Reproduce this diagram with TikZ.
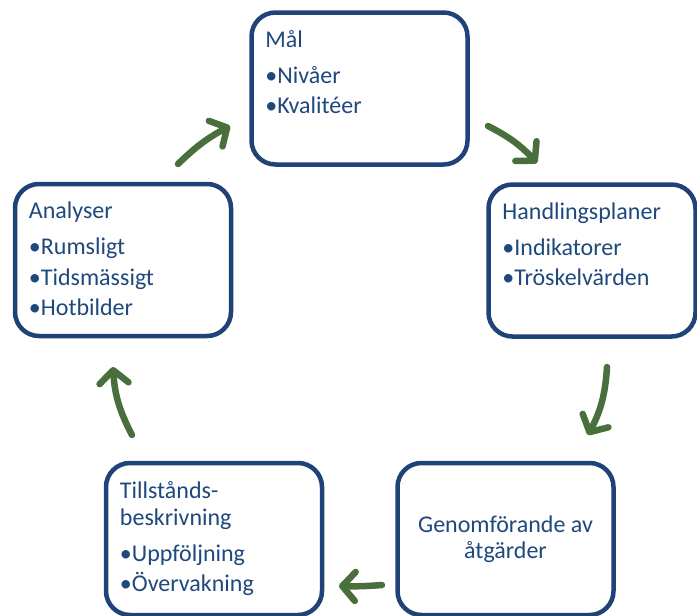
\documentclass[tikz,border=0pt]{standalone}
\usepackage{fontspec}
\setmainfont{Carlito}
\usepackage{xcolor}
\usetikzlibrary{positioning,calc,arrows.meta}
\definecolor{boxblue}{RGB}{31,67,118}
\definecolor{txtblue}{RGB}{31,73,125}
\definecolor{arrgreen}{RGB}{72,111,60}

\begin{document}
\begin{tikzpicture}[x=1pt, y=-1pt,
		stage/.style={shape=rectangle, draw=boxblue, line width=4.5pt, rounded corners=24pt, fill=white, minimum width=216pt, minimum height=152pt},
		stagetext/.style={inner sep=0pt, align=left, text=txtblue, font=\fontsize{24}{26.4}\selectfont},
		cyclearrow/.style={draw=arrgreen, line width=6.5pt, line cap=round, -{Straight Barb[length=13pt, width=29pt, round]}}]
			\useasboundingbox (0,0) rectangle (697,616);
			% stages of the cycle
			\node[name=mal, stage] at (359.5,88.5) {};
			\node[name=hand, stage, minimum width=207pt] at (592,260.5) {};
			\node[name=gen, stage] at (505.5,539) {};
			\node[name=till, stage] at (214,539) {};
			\node[name=ana, stage] at (123,260) {};
			% texts
			\node[name=maltext, stagetext, anchor=north west] at ([xshift=16pt, yshift=-18.5pt]mal.north west) {\strut Mål\\[9.6pt]•Nivåer\\[4pt]•Kvalitéer};
			\node[name=handtext, stagetext, anchor=north west] at ([xshift=16pt, yshift=-18.5pt]hand.north west) {\strut Handlingsplaner\\[9.6pt]•Indikatorer\\[4pt]•Tröskelvärden};
			\node[name=gentext, stagetext, align=center] at (gen.center) {Genomförande av\\åtgärder};
			\node[name=tilltext, stagetext, anchor=north west] at ([xshift=16pt, yshift=-19.5pt]till.north west) {\strut Tillstånds-\\beskrivning\\[9.6pt]•Uppföljning\\[4pt]•Övervakning};
			\node[name=anatext, stagetext, anchor=north west] at ([xshift=16pt, yshift=-18.5pt]ana.north west) {\strut Analyser\\[9.6pt]•Rumsligt\\[4pt]•Tidsmässigt\\[4pt]•Hotbilder};
			% arrows between the stages
			\coordinate (a1s) at (178,164);
			\coordinate (a1e) at (230,126);
			\coordinate (a2s) at (488,126);
			\coordinate (a2e) at (537,163);
			\coordinate (a3s) at (607,367);
			\coordinate (a3e) at (588,435);
			\coordinate (a4s) at (382,585);
			\coordinate (a4e) at (339,586);
			\coordinate (a5s) at (132,435);
			\coordinate (a5e) at (113,367);
			\draw[cyclearrow] (a1s) to[bend left=8] (a1e);
			\draw[cyclearrow] (a2s) to[bend left=10] (a2e);
			\draw[cyclearrow] (a3s) to[bend left=12] (a3e);
			\draw[cyclearrow] (a4s) to[bend left=3] (a4e);
			\draw[cyclearrow] (a5s) to[bend left=12] (a5e);
		\end{tikzpicture}
\end{document}
